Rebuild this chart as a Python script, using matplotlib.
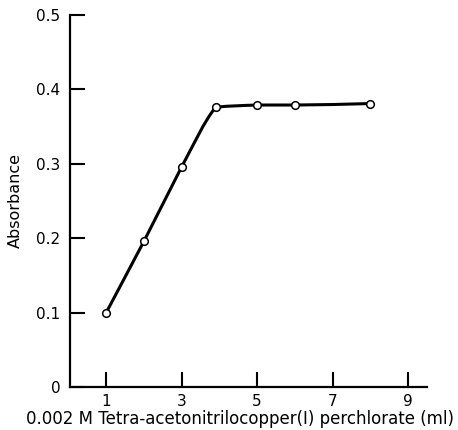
import numpy as np
import matplotlib.pyplot as plt
from matplotlib.path import Path
from matplotlib.patches import PathPatch

plt.rcParams['font.family'] = ['DejaVu Sans']

# titrant volume (ml) and measured absorbance
volume_ml = [1, 2, 3, 3.9, 5, 6, 8]
absorbance = [0.100, 0.196, 0.296, 0.376, 0.379, 0.379, 0.381]

x_ticks = [1, 3, 5, 7, 9]
x_tick_labels = ['1', '3', '5', '7', '9']
y_ticks = [0, 0.1, 0.2, 0.3, 0.4, 0.5]
y_tick_labels = ['0', '0.1', '0.2', '0.3', '0.4', '0.5']


def hand_curve(xs, ys):
    # French-curve style line: Fritsch-Carlson tangents leaving each point,
    # the arriving tangent pulled toward the chord so the knee stays tight
    x = np.asarray(xs, float)
    y = np.asarray(ys, float)
    h = np.diff(x)
    d = np.diff(y) / h
    m = np.zeros_like(y)
    m[0], m[-1] = d[0], d[-1]
    for k in range(1, len(x) - 1):
        if d[k - 1] * d[k] <= 0:
            m[k] = 0.0
        else:
            w1 = 2 * h[k] + h[k - 1]
            w2 = h[k] + 2 * h[k - 1]
            m[k] = (w1 + w2) / (w1 / d[k - 1] + w2 / d[k])
    verts = [(x[0], y[0])]
    codes = [Path.MOVETO]
    for k in range(len(x) - 1):
        m_out = m[k]
        m_in = (2 * d[k] + m[k + 1]) / 3
        verts += [(x[k] + h[k] / 3, y[k] + m_out * h[k] / 3),
                  (x[k + 1] - h[k] / 3, y[k + 1] - m_in * h[k] / 3),
                  (x[k + 1], y[k + 1])]
        codes += [Path.CURVE4] * 3
    return Path(verts, codes)


fig = plt.figure(figsize=(4.58, 4.30), dpi=100)
ax = fig.add_axes([70 / 458, 1 - 387 / 430, 357 / 458, 372 / 430])

curve = PathPatch(hand_curve(volume_ml, absorbance), facecolor='none',
                  edgecolor='black', linewidth=2.2, capstyle='round',
                  joinstyle='round', zorder=2)
ax.add_patch(curve)
ax.plot(volume_ml, absorbance, linestyle='none', marker='o', markersize=5.5,
        markerfacecolor='white', markeredgecolor='black',
        markeredgewidth=1.1, zorder=3)

ax.set_xlim(0.04, 9.5)
ax.set_ylim(0, 0.5)
ax.set_xticks(x_ticks)
ax.set_xticklabels(x_tick_labels)
ax.set_yticks(y_ticks)
ax.set_yticklabels(y_tick_labels)

for side in ['top', 'right']:
    ax.spines[side].set_visible(False)
for side in ['left', 'bottom']:
    ax.spines[side].set_linewidth(1.6)

ax.tick_params(axis='both', direction='in', length=10.5, width=1.5,
               labelsize=11)
ax.tick_params(axis='y', pad=7)
ax.tick_params(axis='x', pad=5)

ax.set_ylabel('Absorbance', fontsize=11.5)
ax.yaxis.set_label_coords(-0.132, 0.5)
ax.set_xlabel('0.002 M Tetra-acetonitrilocopper(I) perchlorate (ml)',
              fontsize=12)
ax.xaxis.set_label_coords(0.475, -0.062)

fig.savefig('out.png', dpi=100)
